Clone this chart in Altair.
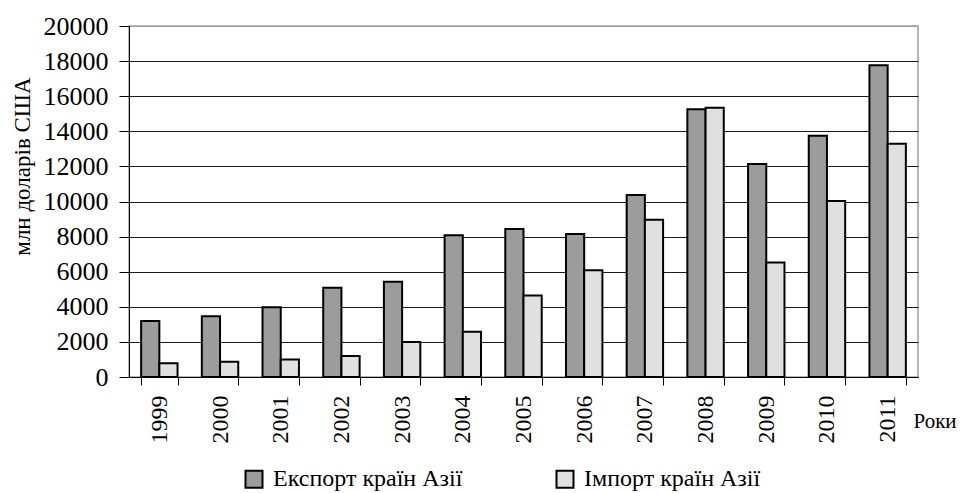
import altair as alt
import pandas as pd

years = ["1999", "2000", "2001", "2002", "2003", "2004", "2005",
         "2006", "2007", "2008", "2009", "2010", "2011"]
export_vals = [3190, 3460, 3970, 5090, 5430, 8070, 8430,
               8150, 10370, 15250, 12140, 13750, 17760]
import_vals = [780, 870, 1000, 1200, 1990, 2580, 4650,
               6080, 8960, 15340, 6530, 10030, 13290]
series_names = ["Експорт країн Азії", "Імпорт країн Азії"]
y_ticks = list(range(0, 20001, 2000))

rows = []
for i, y in enumerate(years):
    rows.append({"year": y, "series": series_names[0], "value": export_vals[i]})
    rows.append({"year": y, "series": series_names[1], "value": import_vals[i]})
df = pd.DataFrame(rows)

FONT = "Liberation Serif"

chart = alt.Chart(df).mark_bar(
    stroke="black", strokeWidth=2, strokeJoin="miter"
).encode(
    x=alt.X(
        "year:N",
        sort=years,
        scale=alt.Scale(paddingInner=0.4, paddingOuter=0.2),
        axis=alt.Axis(
            title="Роки",
            titleFont=FONT,
            titleFontSize=21,
            titleFontWeight="normal",
            titleColor="black",
            titleAnchor="start",
            titleAlign="left",
            titleBaseline="alphabetic",
            titleX=784,
            titleY=50,
            labelAngle=-90,
            labelAlign="right",
            labelBaseline="middle",
            labelFont=FONT,
            labelFontSize=24,
            labelColor="black",
            labelPadding=10,
            tickBand="extent",
            tickSize=8,
            tickColor="black",
            domainColor="black",
            grid=False,
        ),
    ),
    xOffset=alt.XOffset("series:N", sort=series_names,
                        scale=alt.Scale(paddingInner=0, paddingOuter=0)),
    y=alt.Y(
        "value:Q",
        scale=alt.Scale(domain=[0, 20000], nice=False),
        axis=alt.Axis(
            title="млн доларів США",
            titleFont=FONT,
            titleFontSize=23,
            titleFontWeight="normal",
            titleColor="black",
            titleAngle=-90,
            titleAlign="center",
            titleBaseline="middle",
            titleX=-107,
            titleY=140,
            values=y_ticks,
            format="d",
            labelFont=FONT,
            labelFontSize=26,
            labelColor="black",
            labelPadding=11,
            tickSize=10,
            tickColor="black",
            domainColor="black",
            gridColor=alt.condition("datum.value >= 20000", alt.value("#a0a0a0"), alt.value("#1a1a1a")),
            gridWidth=1.2,
        ),
    ),
    fill=alt.Fill(
        "series:N",
        sort=series_names,
        scale=alt.Scale(domain=series_names, range=["#9c9c9c", "#e0e0e0"]),
        legend=alt.Legend(
            title=None,
            orient="none",
            direction="horizontal",
            legendX=113,
            legendY=441,
            padding=0,
            symbolType="square",
            symbolSize=289,
            symbolStrokeColor="black",
            symbolStrokeWidth=2,
            symbolOpacity=1,
            labelFont=FONT,
            labelFontSize=24,
            labelColor="black",
            labelLimit=400,
            labelOffset=7,
            columnPadding=89,
        ),
    ),
).properties(
    width=789,
    height=351,
    autosize=alt.AutoSizeParams(type="none"),
    padding={"left": 121, "top": 18, "right": 38, "bottom": 116},
).configure(
    background="white",
    font=FONT,
).configure_view(
    stroke="#a0a0a0",
    strokeWidth=1.5,
).configure_legend(
    labelFont=FONT,
).configure_axis(
    labelFont=FONT,
    titleFont=FONT,
)

chart.save("out.html", embed_options={"renderer": "svg", "actions": False})
